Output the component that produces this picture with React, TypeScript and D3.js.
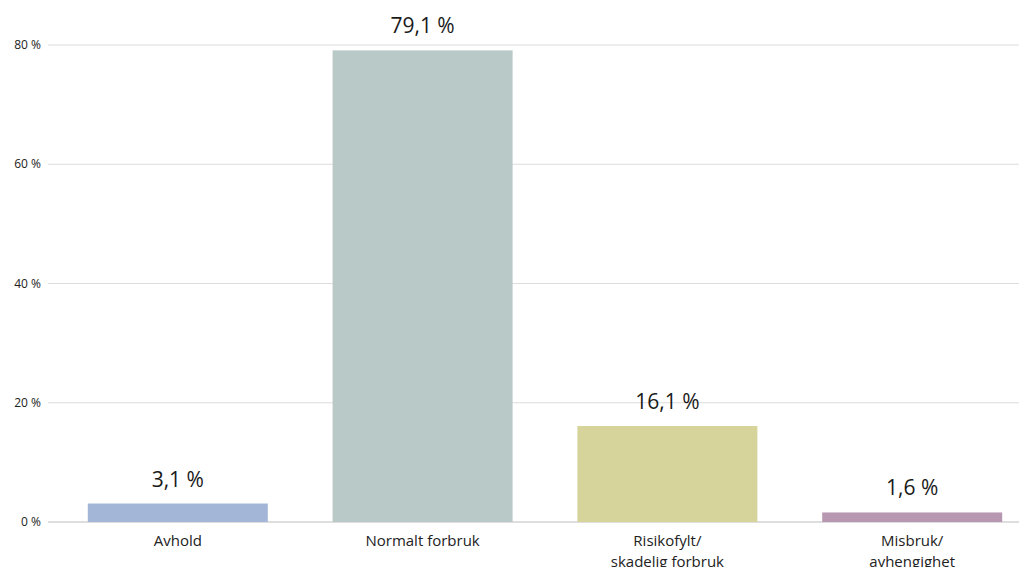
import React from "react";
import * as d3 from "d3";

const categories: string[][] = [
  ["Avhold"],
  ["Normalt forbruk"],
  ["Risikofylt/", "skadelig forbruk"],
  ["Misbruk/", "avhengighet"],
];
const values: number[] = [3.1, 79.1, 16.1, 1.6];
const colors: string[] = ["#a3b6d7", "#b8c9c8", "#d6d49b", "#b897b0"];
const yTicks: number[] = [0, 20, 40, 60, 80];

const W = 1019;
const H = 567;
const FONT = "'Open Sans', sans-serif";

export default function App() {
  const step = 244.8;
  const pi = 64.8 / step;
  const x = d3
    .scaleBand<number>()
    .domain(values.map((_, i) => i))
    .range([87.8 - (pi / 2) * step, 87.8 - (pi / 2) * step + 4 * step])
    .paddingInner(pi)
    .paddingOuter(pi / 2);
  const y = d3.scaleLinear().domain([0, 80]).range([522, 45]);
  const fmt = (v: number) => v.toFixed(1).replace(".", ",") + " %";

  return (
    <svg
      width={W}
      height={H}
      style={{ position: "absolute", left: 0, top: 0, background: "#fff" }}
    >
      {yTicks.map((t) => (
        <g key={t}>
          <line
            x1={48}
            x2={W}
            y1={y(t)}
            y2={y(t)}
            stroke={t === 0 ? "#dedede" : "#dcdcdc"}
            strokeWidth={t === 0 ? 2 : 1}
          />
          <text
            x={41}
            y={y(t) + 4}
            textAnchor="end"
            fontFamily={FONT}
            fontSize={12}
            fill="#222"
          >
            {t} %
          </text>
        </g>
      ))}
      {values.map((v, i) => {
        const bx = x(i)!;
        const cx = bx + x.bandwidth() / 2;
        return (
          <g key={i}>
            <rect
              x={bx}
              y={y(v)}
              width={x.bandwidth()}
              height={y(0) - y(v)}
              fill={colors[i]}
            />
            <text
              x={cx}
              y={y(v) - 17}
              textAnchor="middle"
              fontFamily={FONT}
              fontSize={21}
              fill="#1a1a1a"
            >
              {fmt(v)}
            </text>
            {categories[i].map((line, j) => (
              <text
                key={j}
                x={cx}
                y={546 + j * 21}
                textAnchor="middle"
                fontFamily={FONT}
                fontSize={15}
                fill="#222"
              >
                {line}
              </text>
            ))}
          </g>
        );
      })}
    </svg>
  );
}
